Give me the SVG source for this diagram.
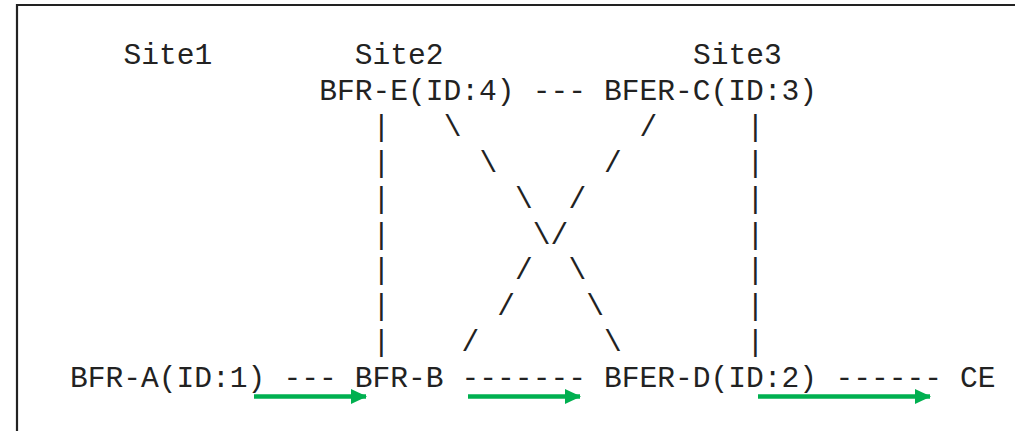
<svg xmlns="http://www.w3.org/2000/svg" width="1015" height="431" viewBox="0 0 1015 431">
<style>
text{font-family:"Liberation Mono","Courier New",monospace;font-size:29.6px;fill:#222;}
.flow{stroke:#00B050;stroke-width:4.5;fill:none;marker-end:url(#ah);}
</style>
<defs>
<marker id="ah" markerUnits="userSpaceOnUse" markerWidth="16" markerHeight="15" refX="15" refY="7.5" orient="auto">
<path d="M0,0 L16,7.5 L0,15 Z" fill="#00B050"/>
</marker>
</defs>
<rect width="1015" height="431" fill="#fff"/>
<path d="M17,431 V5 H1015" fill="none" stroke="#222" stroke-width="2.2"/>
<g id="labels">
<text x="123.4" y="64">Site1</text>
<text x="354.8" y="64">Site2</text>
<text x="693" y="64">Site3</text>
</g>
<g id="node-bfr-e"><text x="319.2" y="100">BFR-E(ID:4)</text></g>
<g id="node-bfer-c"><text x="604" y="100">BFER-C(ID:3)</text></g>
<g id="node-bfr-a"><text x="70" y="387">BFR-A(ID:1)</text></g>
<g id="node-bfr-b"><text x="354.8" y="387">BFR-B</text></g>
<g id="node-bfer-d"><text x="604" y="387">BFER-D(ID:2)</text></g>
<g id="node-ce"><text x="960" y="387">CE</text></g>
<g id="connectors">
<text x="532.8" y="100">---</text>
<text x="283.6" y="387">---</text>
<text x="461.6" y="387">-------</text>
<text x="835.4" y="387">------</text>
<text x="372.6" y="135.9">|</text><text x="443.8" y="135.9">\</text><text x="639.6" y="135.9">/</text><text x="746.4" y="135.9">|</text>
<text x="372.6" y="171.75">|</text><text x="479.4" y="171.75">\</text><text x="604" y="171.75">/</text><text x="746.4" y="171.75">|</text>
<text x="372.6" y="207.6">|</text><text x="515" y="207.6">\</text><text x="568.4" y="207.6">/</text><text x="746.4" y="207.6">|</text>
<text x="372.6" y="243.5">|</text><text x="532.8" y="243.5">\</text><text x="550.6" y="243.5">/</text><text x="746.4" y="243.5">|</text>
<text x="372.6" y="279.4">|</text><text x="515" y="279.4">/</text><text x="568.4" y="279.4">\</text><text x="746.4" y="279.4">|</text>
<text x="372.6" y="315.25">|</text><text x="497.2" y="315.25">/</text><text x="586.2" y="315.25">\</text><text x="746.4" y="315.25">|</text>
<text x="372.6" y="351.1">|</text><text x="461.6" y="351.1">/</text><text x="604" y="351.1">\</text><text x="746.4" y="351.1">|</text>
<line class="flow" x1="254" y1="396.5" x2="366" y2="396.5"/>
<line class="flow" x1="468" y1="396.5" x2="580" y2="396.5"/>
<line class="flow" x1="758" y1="396.5" x2="930" y2="396.5"/>
</g>
</svg>
